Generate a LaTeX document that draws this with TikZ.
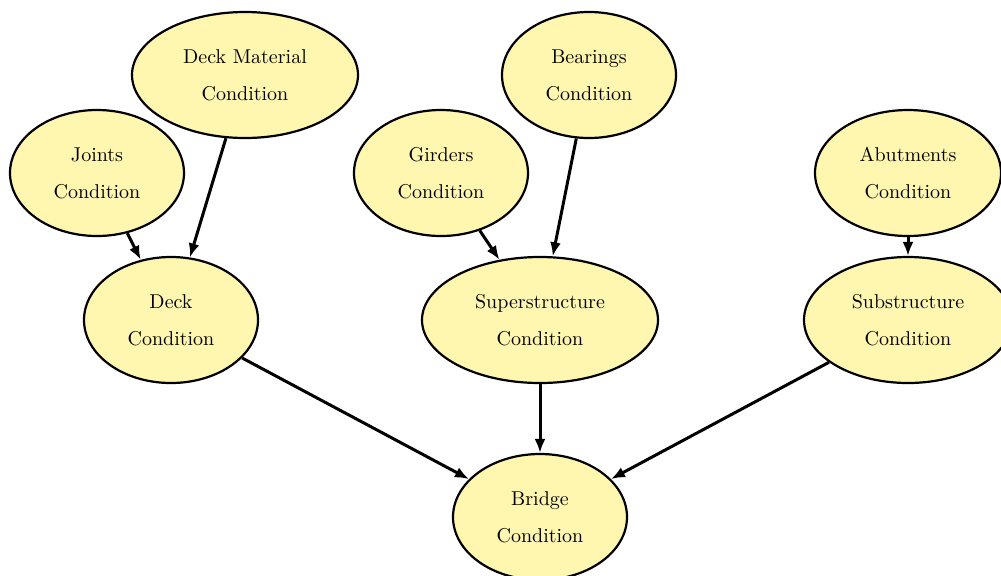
\documentclass[tikz,border=0pt]{standalone}
\usetikzlibrary{shapes.geometric,arrows.meta}
\definecolor{nodefill}{RGB}{255,246,176}
\begin{document}
\begin{tikzpicture}[x=0.5pt,y=-0.5pt,
  cond/.style={ellipse, draw=black, line width=1.1pt, fill=nodefill,
    inner sep=0pt, minimum height=63pt, align=center, font=\normalsize},
  link/.style={line width=1.5pt, -{Latex[length=7pt,width=5.5pt]}}]
\useasboundingbox (0,0) rectangle (1001,575);
\node[cond, minimum width=113pt] (mat) at (245,75) {Deck Material\\[6.5pt]Condition};
\node[cond, minimum width=87pt] (bear) at (589,75) {Bearings\\[6.5pt]Condition};
\node[cond, minimum width=87pt] (joint) at (97,173) {Joints\\[6.5pt]Condition};
\node[cond, minimum width=87pt] (gird) at (441,173) {Girders\\[6.5pt]Condition};
\node[cond, minimum width=93pt] (abut) at (908,173) {Abutments\\[6.5pt]Condition};
\node[cond, minimum width=87pt] (deck) at (171,320) {Deck\\[6.5pt]Condition};
\node[cond, minimum width=118pt] (sup) at (540,320) {Superstructure\\[6.5pt]Condition};
\node[cond, minimum width=104pt] (sub) at (908,320) {Substructure\\[6.5pt]Condition};
\node[cond, minimum width=87pt] (bridge) at (540,517) {Bridge\\[6.5pt]Condition};
\draw[link] (joint) -- (deck);
\draw[link] (mat) -- (deck);
\draw[link] (gird) -- (sup);
\draw[link] (bear) -- (sup);
\draw[link] (abut) -- (sub);
\draw[link] (deck) -- (bridge);
\draw[link] (sup) -- (bridge);
\draw[link] (sub) -- (bridge);
\end{tikzpicture}
\end{document}
